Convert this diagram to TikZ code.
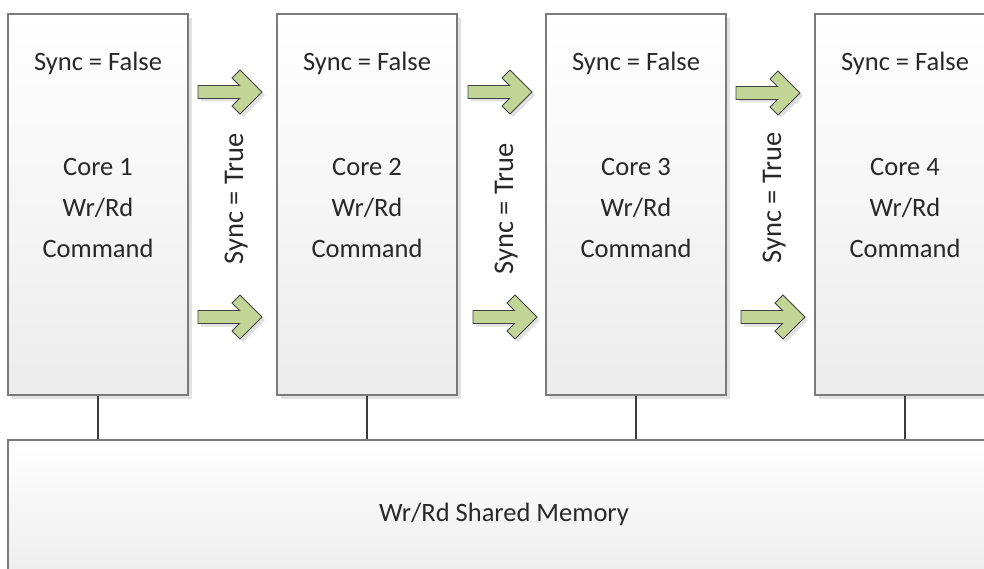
\documentclass[tikz,border=0pt]{standalone}
\usepackage{fontspec}
\setmainfont{Carlito}
\usetikzlibrary{shadows}

\definecolor{boxline}{RGB}{122,122,122}
\definecolor{boxbottom}{RGB}{236,236,236}
\definecolor{boxshadow}{RGB}{226,226,226}
\definecolor{wire}{RGB}{60,60,60}
\definecolor{arrowgreen}{RGB}{194,212,150}
\definecolor{arrowline}{RGB}{65,65,65}
\definecolor{ink}{RGB}{40,40,40}

\tikzset{
  corebox/.style={draw=boxline, line width=1.3pt, top color=white, bottom color=boxbottom,
    minimum width=180pt, minimum height=381pt, inner sep=0pt,
    drop shadow={shadow xshift=4pt, shadow yshift=-4pt, fill=boxshadow, opacity=1}},
  membox/.style={draw=boxline, line width=1.3pt, top color=white, bottom color=boxbottom,
    minimum width=992pt, minimum height=144pt, inner sep=0pt},
  wire/.style={draw=wire, line width=2.8pt},
  lbl/.style={text=ink, font=\fontsize{26.5}{41}\selectfont, inner sep=0pt, anchor=base},
  vlbl/.style={lbl, font=\fontsize{28.5}{41}\selectfont, rotate=90},
  arrowbody/.style={draw=arrowline, line width=0.9pt, fill=arrowgreen, line join=miter},
  arrowshade/.style={fill=black, opacity=0.12},
  blockarrow/.pic={
    \fill[arrowshade] (-61,-3.5) -- (-19.5,-3.5) -- (-27,-11) -- (-19,-19) -- (3,3)
      -- (-19,25) -- (-27,17) -- (-19.5,9.5) -- (-61,9.5) -- cycle;
    \draw[arrowbody] (-64,-6.5) -- (-22.5,-6.5) -- (-30,-14) -- (-22,-22) -- (0,0)
      -- (-22,22) -- (-30,14) -- (-22.5,6.5) -- (-64,6.5) -- cycle;
  }
}

\begin{document}
\begin{tikzpicture}[x=1pt, y=-1pt]
  \useasboundingbox (0,0) rectangle (984,569);
  \clip (0,0) rectangle (984,569);

  % shared memory
  \node[membox] (mem) at (504,512) {};
  \node[lbl] (memtext) at (504,521) {Wr/Rd Shared Memory};

  % cores with their labels
  \foreach \i/\x in {1/98, 2/367, 3/636, 4/905} {
    \node[corebox] (core\i) at (\x,204.5) {};
    \node[lbl] (sync\i) at (\x,71) {Sync = False};
    \node[lbl] (name\i) at (\x,176) {Core \i};
    \node[lbl] (wr\i) at (\x,217) {Wr/Rd};
    \node[lbl] (cmd\i) at (\x,258) {Command};
    \draw[wire] (core\i.south) -- (core\i.south |- mem.north);
  }

  % synchronisation flags between neighbouring cores
  \foreach \j/\x/\y in {1/243/199, 2/513/209, 3/781/198} {
    \node[vlbl] (true\j) at (\x,\y) {Sync = True};
  }

  % block arrows
  \pic (a1t) at (262,92) {blockarrow};
  \pic (a1b) at (262,317) {blockarrow};
  \pic (a2t) at (532,92) {blockarrow};
  \pic (a2b) at (537,317) {blockarrow};
  \pic (a3t) at (800,93) {blockarrow};
  \pic (a3b) at (805,317) {blockarrow};
\end{tikzpicture}
\end{document}
